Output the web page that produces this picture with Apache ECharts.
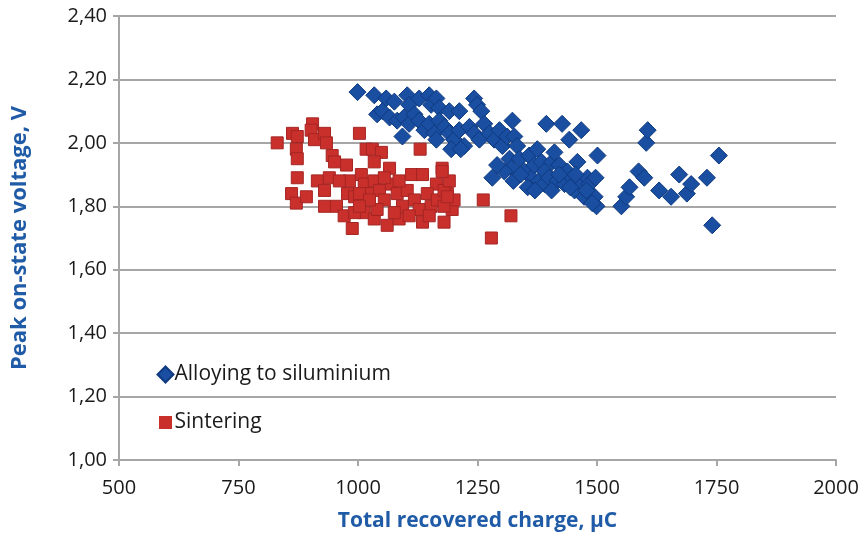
<!DOCTYPE html>
<html>
<head>
<meta charset="utf-8">
<script src="https://cdn.jsdelivr.net/npm/echarts@6/dist/echarts.min.js"></script>
<style>
  html, body { margin: 0; padding: 0; background: #fff; }
  #chart { width: 867px; height: 544px; }
</style>
</head>
<body>
<div id="chart"></div>
<script>
  // alloying to siluminium: charge (uC) / peak voltage (V)
  const alloyCharge = [999, 1034, 1059, 1076, 1103, 1107, 1128, 1149, 1153, 1164, 1170, 1191, 1212, 1243, 1249, 1258,
    1040, 1051, 1066, 1082, 1096, 1107, 1118, 1128, 1139, 1149, 1160, 1170, 1181, 1191, 1201, 1212, 1222, 1093,
    1233, 1243, 1254, 1264, 1275, 1285, 1296, 1302, 1312, 1323, 1327, 1333, 1317, 1321, 1325, 1338, 1348, 1358,
    1363, 1369, 1375, 1379, 1384, 1390, 1390, 1394, 1400, 1406, 1411, 1417, 1421, 1427, 1432, 1438, 1442, 1448,
    1453, 1459, 1463, 1467, 1473, 1480, 1484, 1497, 1501, 1499, 1495, 1281, 1306, 1291, 1490, 1164, 1195, 1215,
    1551, 1561, 1568, 1587, 1599, 1603, 1606, 1630, 1655, 1672, 1688, 1697, 1730, 1755, 1741, 1444, 1421, 1340,
    1355, 1370, 1405, 1455, 1478]
  const alloyVoltage = [2.16, 2.15, 2.14, 2.13, 2.15, 2.12, 2.14, 2.15, 2.12, 2.14, 2.11, 2.10, 2.10, 2.14, 2.12, 2.10,
    2.09, 2.10, 2.08, 2.07, 2.08, 2.06, 2.09, 2.07, 2.04, 2.06, 2.03, 2.07, 2.05, 2.03, 2.01, 2.04, 1.99, 2.02,
    2.05, 2.03, 2.01, 2.06, 2.03, 2.01, 2.04, 1.99, 2.02, 2.07, 2.02, 1.99, 1.95, 1.92, 1.88, 1.95, 1.91, 1.96,
    1.89, 1.93, 1.98, 1.88, 1.94, 1.91, 1.87, 2.06, 1.89, 1.94, 1.97, 1.88, 1.93, 2.06, 1.87, 1.91, 2.01, 1.89,
    1.85, 1.94, 1.88, 2.04, 1.83, 1.89, 1.87, 1.89, 1.96, 1.80, 1.83, 1.89, 1.91, 1.93, 1.81, 2.01, 1.98, 1.98,
    1.80, 1.83, 1.86, 1.91, 1.89, 2.00, 2.04, 1.85, 1.83, 1.90, 1.84, 1.87, 1.89, 1.96, 1.74, 1.86, 1.90, 1.90,
    1.86, 1.85, 1.85, 1.90, 1.85]

  // sintering
  const sinterCharge = [831, 863, 873, 871, 873, 905, 902, 909, 930, 934, 946, 951, 976, 1003, 873, 915, 940, 861,
    871, 892, 930, 930, 955, 971, 988, 978, 993, 1007, 1013, 1020, 1013, 993, 1017, 1030, 1049, 1130, 1066, 1112,
    1135, 1176, 1164, 1187, 1197, 1180, 1135, 1061, 1086, 1034, 1034, 1045, 1055, 1070, 1082, 1093, 1103, 1118,
    1128, 1145, 1153, 1166, 1180, 1040, 1076, 1107, 1149, 1191, 1201, 1055, 1086, 1003, 1024, 1034, 1003, 982,
    961, 1176, 1180, 1187, 1262, 1320, 1279]
  const sinterVoltage = [2.00, 2.03, 2.02, 1.98, 1.95, 2.06, 2.04, 2.01, 2.03, 2.00, 1.96, 1.94, 1.93, 2.03, 1.89,
    1.88, 1.89, 1.84, 1.81, 1.83, 1.85, 1.80, 1.80, 1.77, 1.73, 1.84, 1.83, 1.90, 1.87, 1.84, 1.78, 1.78, 1.98,
    1.98, 1.97, 1.98, 1.92, 1.90, 1.90, 1.92, 1.87, 1.84, 1.79, 1.75, 1.75, 1.74, 1.76, 1.76, 1.88, 1.85, 1.82,
    1.87, 1.84, 1.80, 1.85, 1.82, 1.79, 1.84, 1.80, 1.82, 1.85, 1.79, 1.78, 1.77, 1.77, 1.88, 1.82, 1.89, 1.88,
    1.84, 1.82, 1.94, 1.80, 1.88, 1.88, 1.91, 1.80, 1.83, 1.82, 1.77, 1.70]

  const seriesNames = ['Alloying to siluminium', 'Sintering']

  const zip = (xs, ys) => xs.map((x, i) => [x, ys[i]])
  const font = '"Open Sans", sans-serif'
  const gridGray = '#a6a6a6'
  const titleStyle = { fontFamily: font, fontSize: 21, fontWeight: 'bold', color: '#1f5ba6' }

  let chart = echarts.init(document.getElementById('chart'))
  let option = {
    animation: false,
    backgroundColor: '#fff',
    grid: { left: 119, right: 31, top: 16, bottom: 84 },
    legend: {
      orient: 'vertical',
      left: 151,
      top: 359,
      itemGap: 27,
      itemWidth: 16,
      itemHeight: 16,
      textStyle: { fontFamily: font, fontSize: 21, color: '#1a1a1a', padding: [0, 0, 0, -4] },
      data: [
        { name: seriesNames[0], icon: 'diamond' },
        { name: seriesNames[1], icon: 'rect', itemStyle: { borderWidth: 3, borderColor: '#fff' } }
      ]
    },
    xAxis: {
      type: 'value',
      min: 500,
      max: 2000,
      interval: 250,
      name: 'Total recovered charge, μC',
      nameLocation: 'middle',
      nameGap: 51,
      nameTextStyle: titleStyle,
      axisLine: { lineStyle: { color: gridGray, width: 2 } },
      axisTick: { show: true, length: 6, lineStyle: { color: gridGray, width: 2 } },
      axisLabel: { fontFamily: font, fontSize: 20, color: '#1a1a1a', margin: 18, formatter: v => String(v) },
      splitLine: { show: false }
    },
    yAxis: {
      type: 'value',
      min: 1,
      max: 2.4,
      interval: 0.2,
      name: 'Peak on-state voltage, V',
      nameLocation: 'middle',
      nameGap: 88,
      nameTextStyle: Object.assign({}, titleStyle, { fontSize: 22 }),
      axisLine: { show: true, lineStyle: { color: gridGray, width: 2 } },
      axisTick: { show: true, length: 6, lineStyle: { color: gridGray, width: 2 } },
      axisLabel: {
        fontFamily: font, fontSize: 20, color: '#1a1a1a', margin: 12,
        formatter: v => v.toFixed(2).replace('.', ',')
      },
      splitLine: { lineStyle: { color: gridGray, width: 2 } }
    },
    series: [
      {
        name: seriesNames[0],
        type: 'scatter',
        symbol: 'diamond',
        symbolSize: 17,
        itemStyle: { color: '#1a4ea0', borderColor: '#0f3a80', borderWidth: 1, opacity: 1 },
        data: zip(alloyCharge, alloyVoltage)
      },
      {
        name: seriesNames[1],
        type: 'scatter',
        symbol: 'rect',
        symbolSize: 12,
        itemStyle: { color: '#c9302c', borderColor: '#a52523', borderWidth: 1, opacity: 1 },
        data: zip(sinterCharge, sinterVoltage)
      }
    ]
  }
  chart.setOption(option)
  window.addEventListener('resize', chart.resize)
</script>
</body>
</html>
